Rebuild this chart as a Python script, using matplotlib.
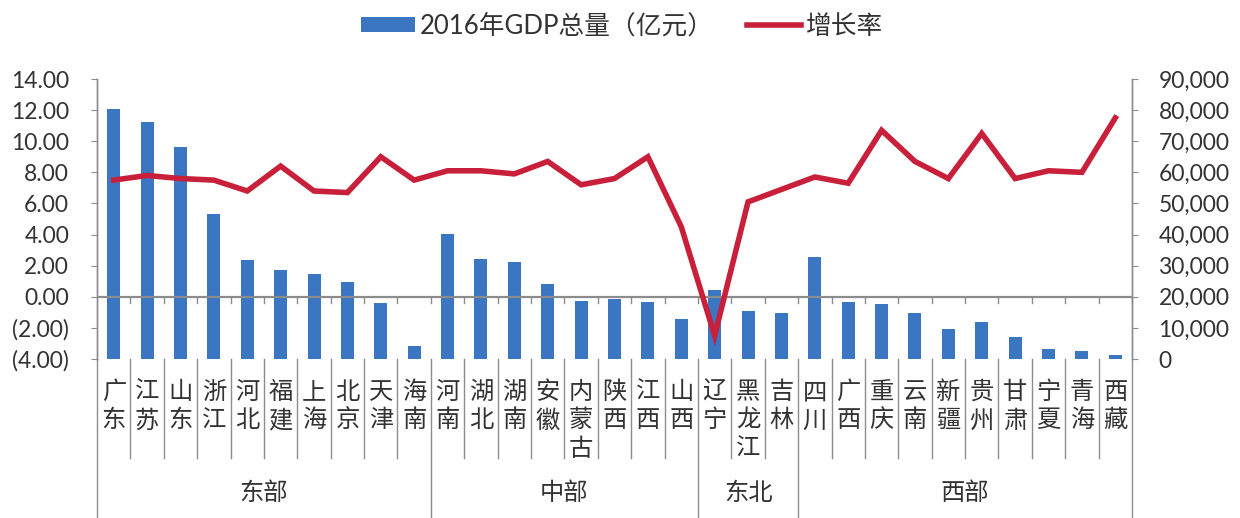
import matplotlib
matplotlib.use("Agg")
import matplotlib.pyplot as plt
import matplotlib.transforms as mtransforms
from matplotlib.lines import Line2D
from matplotlib.patches import Patch
from matplotlib.ticker import FuncFormatter, MultipleLocator

plt.rcParams['font.family'] = ['Lato', 'Noto Sans CJK SC', 'DejaVu Sans']

provinces = ["广东", "江苏", "山东", "浙江", "河北", "福建", "上海", "北京", "天津", "海南",
             "河南", "湖北", "湖南", "安徽", "内蒙古", "陕西", "江西", "山西",
             "辽宁", "黑龙江", "吉林",
             "四川", "广西", "重庆", "云南", "新疆", "贵州", "甘肃", "宁夏", "青海", "西藏"]
gdp = [80200, 76086, 68024, 46485, 31827, 28519, 27466, 24899, 17885, 4044,
       40160, 32298, 31244, 24118, 18633, 19165, 18364, 12928,
       22247, 15386, 14886,
       32681, 18245, 17559, 14870, 9617, 11734, 7152, 3150, 2572, 1148]
growth = [7.5, 7.8, 7.6, 7.5, 6.8, 8.4, 6.8, 6.7, 9.0, 7.5,
          8.1, 8.1, 7.9, 8.7, 7.2, 7.6, 9.0, 4.5,
          -2.5, 6.1, 6.9,
          7.7, 7.3, 10.7, 8.7, 7.6, 10.5, 7.6, 8.1, 8.0, 11.5]
regions = ["东部", "中部", "东北", "西部"]
region_sizes = [10, 8, 3, 10]

bar_color = "#3B76C3"
line_color = "#C8203A"
axis_color = "#8C8C8C"
text_color = "#333333"
cjk = ['Noto Sans CJK SC', 'DejaVu Sans']

W, H = 1240, 518
fig = plt.figure(figsize=(W / 100, H / 100), dpi=100)
left, right, top, bottom = 97, 1132, 79, 359
ax = fig.add_axes([left / W, 1 - bottom / H, (right - left) / W, (bottom - top) / H])
ax2 = ax.twinx()

n = len(provinces)
x = list(range(n))

# Bars on the GDP axis (right side)
ax.bar(x, gdp, width=0.39, color=bar_color, zorder=2)
ax.set_ylim(0, 90000)
ax.set_xlim(-0.5, n - 0.5)
ax.yaxis.set_major_locator(MultipleLocator(10000))
ax.yaxis.set_major_formatter(FuncFormatter(lambda v, p: "0" if v == 0 else f"{int(v):,}"))
ax.yaxis.tick_right()
ax.tick_params(axis='y', which='both', direction='out', length=4, color=axis_color,
               labelsize=16.5, labelcolor=text_color, pad=15, right=True, left=False)
ax.set_xticks([])

# Growth line on the rate axis (left side)
ax2.plot(x, growth, color=line_color, linewidth=4.0, solid_joinstyle='miter', zorder=3)
ax2.set_ylim(-4, 14)
ax2.yaxis.set_major_locator(MultipleLocator(2))
ax2.yaxis.set_major_formatter(FuncFormatter(lambda v, p: f"({abs(v):.2f})" if v < 0 else f"{v:.2f}"))
ax2.yaxis.tick_left()
ax2.tick_params(axis='y', which='both', direction='out', length=4, color=axis_color,
                labelsize=16.5, labelcolor=text_color, pad=16, left=True, right=False)

for a in (ax, ax2):
    for s in ('top', 'bottom'):
        a.spines[s].set_visible(False)
    a.spines['left'].set_color(axis_color)
    a.spines['right'].set_color(axis_color)
    a.spines['left'].set_linewidth(1.0)
    a.spines['right'].set_linewidth(1.0)
    a.set_facecolor('none')

# zero line with category ticks
ax2.axhline(0, color=axis_color, linewidth=1.6, zorder=1.5)
for i in range(1, n + 1):
    xb = i - 0.5
    ax2.add_line(Line2D([xb, xb], [0, -0.4], color=axis_color, linewidth=1.0, zorder=1.5, clip_on=False))

# category separators and labels below the plot
bt = mtransforms.blended_transform_factory(ax.transData, fig.transFigure)
y_axis_bottom = 1 - bottom / H
y_cat_bottom = 1 - 458 / H
y_grp_bottom = 0.0
group_bounds = [-0.5]
acc = -0.5
for s in region_sizes:
    acc += s
    group_bounds.append(acc)
for i in range(n + 1):
    xb = i - 0.5
    yb = y_grp_bottom if any(abs(xb - g) < 1e-9 for g in group_bounds) else y_cat_bottom
    fig.add_artist(Line2D([xb, xb], [y_axis_bottom, yb], transform=bt, color=axis_color,
                          linewidth=1.0, clip_on=False))

for i, name in enumerate(provinces):
    fig.text(i, 1 - 379 / H, "\n".join(name), transform=bt, ha='center', va='top',
             fontsize=17.5, color=text_color, linespacing=1.12, family=cjk)

for k, reg in enumerate(regions):
    cx = (group_bounds[k] + group_bounds[k + 1]) / 2
    fig.text(cx, 1 - 493 / H, reg, transform=bt, ha='center', va='center',
             fontsize=17.5, color=text_color, family=cjk)

handles = [Patch(facecolor=bar_color, edgecolor='none'),
           Line2D([0], [0], color=line_color, linewidth=4)]
labels = ["2016年GDP总量（亿元）", "增长率"]
fig.legend(handles, labels, loc='center', bbox_to_anchor=(622 / W, 1 - 26 / H), ncol=2,
           frameon=False, handlelength=2.1, handleheight=0.5,
           handletextpad=0.2, columnspacing=1.3, labelcolor=text_color,
           prop={'family': ['Lato', 'Noto Sans CJK SC'], 'size': 18.5})

fig.savefig("out.png", dpi=100, facecolor='white')
